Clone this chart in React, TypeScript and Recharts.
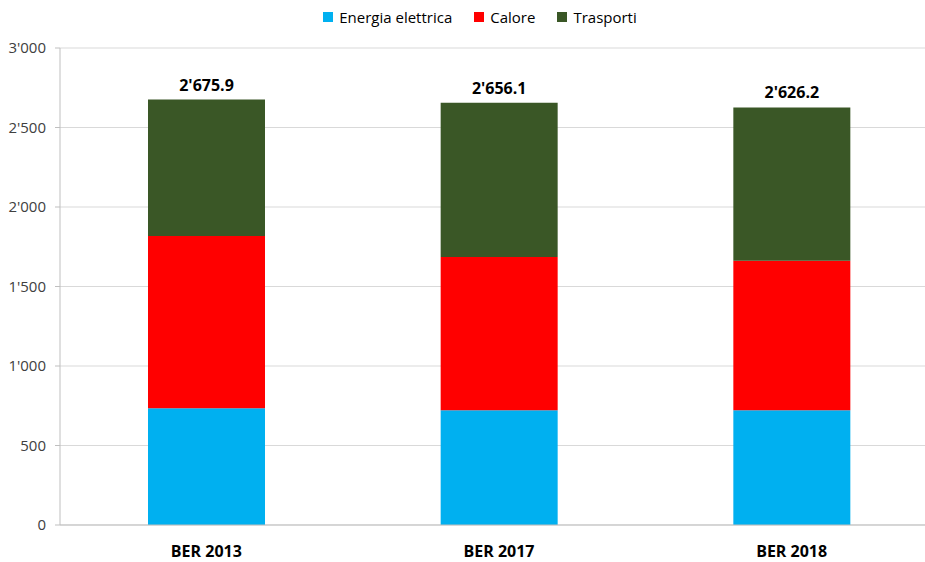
import React from 'react';
import { BarChart, Bar, XAxis, YAxis, CartesianGrid, LabelList } from 'recharts';

const categories = ['BER 2013', 'BER 2017', 'BER 2018'];
const energiaElettrica = [735, 722, 722];
const calore = [1082, 963, 940];
const trasporti = [858.9, 971.1, 964.2];
const totali = [2675.9, 2656.1, 2626.2];
const yTicks = [0, 500, 1000, 1500, 2000, 2500, 3000];

const series = [
  { key: 'energia', name: 'Energia elettrica', color: '#00B0F0' },
  { key: 'calore', name: 'Calore', color: '#FF0000' },
  { key: 'trasporti', name: 'Trasporti', color: '#3A5726' },
];

const data = categories.map((cat, i) => ({
  cat,
  energia: energiaElettrica[i],
  calore: calore[i],
  trasporti: trasporti[i],
  totale: totali[i],
}));

const font = '"Open Sans", sans-serif';

// 2675.9 -> 2'675.9
const fmt = (v: number, dec = 0) => {
  const [int, frac] = v.toFixed(dec).split('.');
  const withSep = int.replace(/\B(?=(\d{3})+(?!\d))/g, "'");
  return frac ? `${withSep}.${frac}` : withSep;
};

const TotalLabel = (props: any) => {
  const { x, y, width, index } = props;
  return (
    <text
      x={x + width / 2}
      y={y - 9}
      textAnchor="middle"
      fontFamily={font}
      fontSize={16}
      fontWeight={700}
      fill="#000"
    >
      {fmt(totali[index], 1)}
    </text>
  );
};

export default function App() {
  return (
    <div
      style={{
        position: 'absolute',
        left: 0,
        top: 0,
        width: 925,
        height: 562,
        overflow: 'hidden',
        background: '#fff',
        fontFamily: font,
      }}
    >
      <div
        style={{
          position: 'absolute',
          top: 7,
          left: 0,
          width: 960,
          display: 'flex',
          justifyContent: 'center',
          gap: 22,
          fontSize: 15,
          color: '#000',
        }}
      >
        {series.map(s => (
          <div key={s.key} style={{ display: 'flex', alignItems: 'center' }}>
            <span style={{ width: 10, height: 10, background: s.color, marginRight: 6, display: 'inline-block' }} />
            <span>{s.name}</span>
          </div>
        ))}
      </div>
      <BarChart
        width={940}
        height={562}
        data={data}
        margin={{ top: 48, right: 2, bottom: 7, left: 0 }}
      >
        <CartesianGrid vertical={false} stroke="#d9d9d9" />
        <XAxis
          dataKey="cat"
          height={30}
          tickLine={false}
          axisLine={{ stroke: '#bfbfbf' }}
          tickMargin={15}
          tick={{ fontFamily: font, fontSize: 16, fontWeight: 700, fill: '#000' }}
        />
        <YAxis
          width={60}
          domain={[0, 3000]}
          ticks={yTicks}
          interval={0}
          tickSize={5}
          tickMargin={9}
          axisLine={{ stroke: '#bfbfbf' }}
          tickLine={{ stroke: '#bfbfbf' }}
          tickFormatter={(v: number) => fmt(v)}
          tick={{ fontFamily: font, fontSize: 15, fill: '#404040' }}
        />
        {series.map((s, i) => (
          <Bar
            key={s.key}
            dataKey={s.key}
            name={s.name}
            stackId="a"
            fill={s.color}
            barSize={117}
            isAnimationActive={false}
          >
            {i === series.length - 1 && <LabelList dataKey="totale" content={TotalLabel} />}
          </Bar>
        ))}
      </BarChart>
    </div>
  );
}
